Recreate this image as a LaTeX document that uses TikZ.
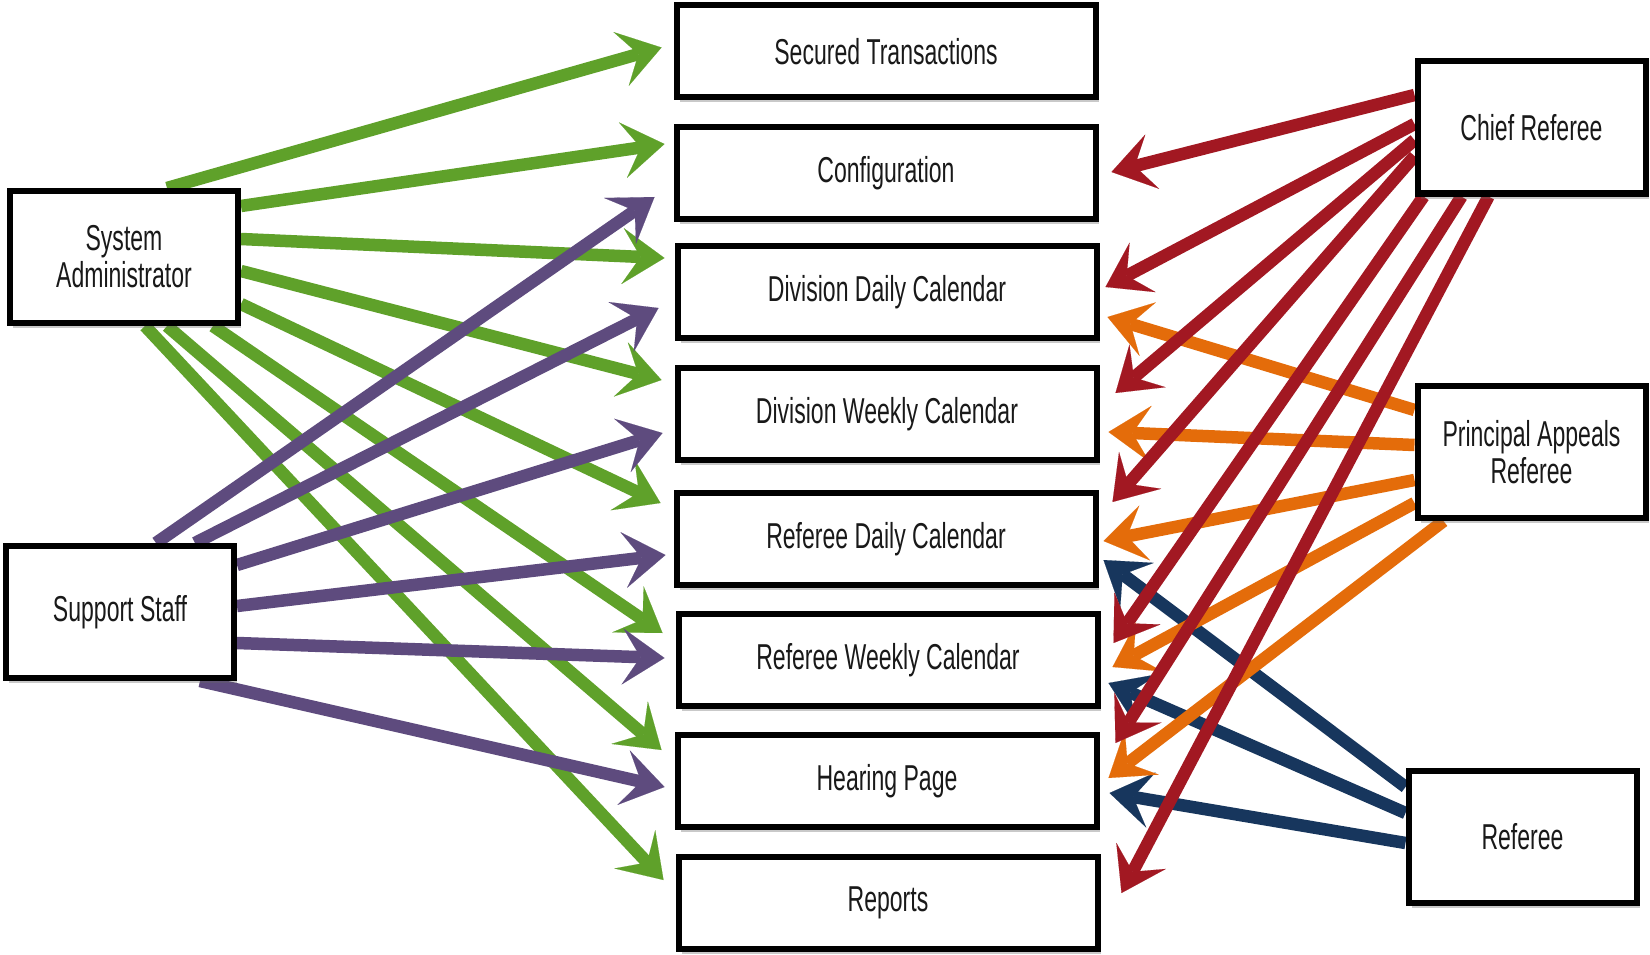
\documentclass[tikz,border=0pt]{standalone}
\usepackage{fontspec}
\newfontfamily\boxfont[FakeStretch=0.64]{Liberation Sans}
\usetikzlibrary{arrows.meta,shadows,backgrounds}
\definecolor{cgreen}{RGB}{95,161,42}
\definecolor{cpurple}{RGB}{94,75,126}
\definecolor{cred}{RGB}{162,24,34}
\definecolor{corange}{RGB}{228,108,10}
\definecolor{cnavy}{RGB}{23,54,93}
\begin{document}
\begin{tikzpicture}[x=1pt,y=-1pt,
  box/.style={draw=black, line width=6pt, fill=white, align=center, inner sep=0pt,
    font=\boxfont\fontsize{36}{37}\selectfont, text=black!90,
    drop shadow={shadow xshift=3pt, shadow yshift=-5pt, opacity=0.35, fill=black!60}},
  midbox/.style={box, minimum width=419pt, minimum height=92pt},
  sidebox/.style={box, minimum width=228pt, minimum height=132pt},
  conn/.style={line width=12.5pt, -{Stealth[length=42pt,width=56pt,inset=18pt,line width=0.1pt]}},
]
\useasboundingbox (0,0) rectangle (1650,955);

\node[midbox] (st)  at (886,51.5) {Secured Transactions};
\node[midbox] (cfg) at (886,173) {Configuration};
\node[midbox] (dd)  at (887,292) {Division Daily Calendar};
\node[midbox] (dw)  at (887,414) {Division Weekly Calendar};
\node[midbox] (rd)  at (886,539) {Referee Daily Calendar};
\node[midbox] (rw)  at (888,660) {Referee Weekly Calendar};
\node[midbox] (hp)  at (887,781) {Hearing Page};
\node[midbox] (rp)  at (888,903) {Reports};

\node[sidebox] (sa)  at (124,257) {System\\Administrator};
\node[sidebox] (ss)  at (120,612) {Support Staff};
\node[sidebox] (cr)  at (1531.5,127.5) {Chief Referee};
\node[sidebox] (par) at (1531.5,452) {Principal Appeals\\Referee};
\node[sidebox] (ref) at (1522.5,836.5) {Referee};

\begin{pgfonlayer}{background}
\fill[white] (0,0) rectangle (1650,955);
% green: System Administrator
\draw[conn,cgreen] ([shift={(43,0)}]sa.north) -- ([shift={(-12,-4)}]st.west);
\draw[conn,cgreen] ([shift={(0,-51)}]sa.east) -- ([shift={(-9,-29)}]cfg.west);
\draw[conn,cgreen] ([shift={(0,-18)}]sa.east) -- ([shift={(-10,-34)}]dd.west);
\draw[conn,cgreen] ([shift={(0,14)}]sa.east) -- ([shift={(-13,-34)}]dw.west);
\draw[conn,cgreen] ([shift={(0,47)}]sa.east) -- ([shift={(-13,-36)}]rd.west);
\draw[conn,cgreen] ([shift={(89,0)}]sa.south) -- ([shift={(-13,-27)}]rw.west);
\draw[conn,cgreen] ([shift={(43,0)}]sa.south) -- ([shift={(-13,-31)}]hp.west);
\draw[conn,cgreen] ([shift={(21,0)}]sa.south) -- ([shift={(-12,-23)}]rp.west);
% purple: Support Staff
\draw[conn,cpurple] ([shift={(36,0)}]ss.north) -- ([shift={(-19,24)}]cfg.west);
\draw[conn,cpurple] ([shift={(75,0)}]ss.north) -- ([shift={(-16,16)}]dd.west);
\draw[conn,cpurple] ([shift={(0,-47)}]ss.east) -- ([shift={(-12,19)}]dw.west);
\draw[conn,cpurple] ([shift={(0,-6)}]ss.east) -- ([shift={(-8,16)}]rd.west);
\draw[conn,cpurple] ([shift={(0,31)}]ss.east) -- ([shift={(-11,-2)}]rw.west);
\draw[conn,cpurple] ([shift={(80,0)}]ss.south) -- ([shift={(-10,6)}]hp.west);
% navy: Referee
\draw[conn,cnavy] ([shift={(0,-49.5)}]ref.west) -- ([shift={(5,21)}]rd.east);
\draw[conn,cnavy] ([shift={(0,-23.5)}]ref.west) -- ([shift={(8,23)}]rw.east);
\draw[conn,cnavy] ([shift={(0,6.5)}]ref.west) -- ([shift={(10,12)}]hp.east);
% orange: Principal Appeals Referee
\draw[conn,corange] ([shift={(0,-42)}]par.west) -- ([shift={(8,25)}]dd.east);
\draw[conn,corange] ([shift={(0,-7)}]par.west) -- ([shift={(9,18)}]dw.east);
\draw[conn,corange] ([shift={(0,28)}]par.west) -- ([shift={(5,2)}]rd.east);
\draw[conn,corange] ([shift={(0,51)}]par.west) -- ([shift={(12,7)}]rw.east);
\draw[conn,corange] ([shift={(-88,0)}]par.south) -- ([shift={(9,-3)}]hp.east);
% red: Chief Referee
\draw[conn,cred] ([shift={(0,-32.5)}]cr.west) -- ([shift={(13,-1)}]cfg.east);
\draw[conn,cred] ([shift={(0,-3.5)}]cr.west) -- ([shift={(6,-5)}]dd.east);
\draw[conn,cred] ([shift={(0,12.5)}]cr.west) -- ([shift={(16,-21)}]dw.east);
\draw[conn,cred] ([shift={(0,28.5)}]cr.west) -- ([shift={(14,-37)}]rd.east);
\draw[conn,cred] ([shift={(-108,0)}]cr.south) -- ([shift={(13,-17)}]rw.east);
\draw[conn,cred] ([shift={(-70,0)}]cr.south) -- ([shift={(16,-38)}]hp.east);
\draw[conn,cred] ([shift={(-43,0)}]cr.south) -- ([shift={(21,-10)}]rp.east);
\end{pgfonlayer}
\end{tikzpicture}
\end{document}
